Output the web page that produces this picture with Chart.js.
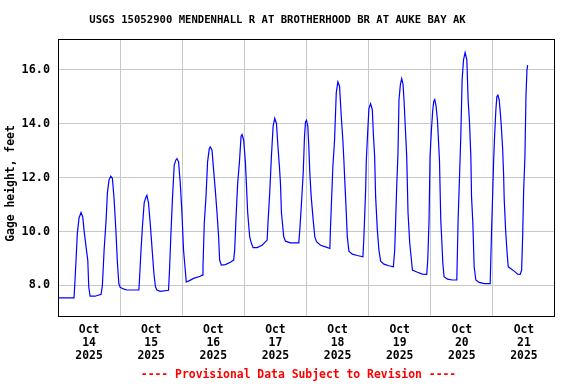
<!DOCTYPE html>
<html>
<head>
<meta charset="utf-8">
<script src="https://cdn.jsdelivr.net/npm/chart.js@4"></script>
<style>
  html, body { margin: 0; padding: 0; background: #fff; }
</style>
</head>
<body>
<canvas id="gage" width="576" height="384"></canvas>
<script>
// hours since Oct 14 2025 00:00, and gage height in feet
var hours = [
  0, 6.19, 6.58, 6.97, 7.47, 8.13, 8.90, 9.56, 10.06, 10.84, 11.50, 11.88, 12.39, 14.32,
  16.65, 17.15, 17.81, 18.58, 19.08, 19.74, 20.40, 21.02, 21.68, 22.34, 22.95, 23.50, 24.00, 25.28, 26.59,
  31.24, 31.47, 32.01, 32.63, 33.29, 33.95, 34.34, 34.96, 35.61, 36.39, 37.05, 37.66, 38.21, 39.48,
  42.70, 43.08, 43.63, 44.25, 44.90, 45.56, 45.95, 46.57, 47.23, 47.88, 48.50, 49.16, 49.55, 50.44, 52.37, 54.97,
  55.63, 56.01, 56.52, 57.17, 57.79, 58.45, 58.84, 59.50, 60.12, 60.77, 61.43, 62.05, 62.44, 63.10, 64.65, 66.58,
  67.86, 68.25, 68.79, 69.41, 70.07, 70.72, 71.11, 71.73, 72.39, 72.77, 73.28, 74.05, 74.71, 75.37, 76.92, 78.85,
  80.79, 81.18, 81.79, 82.45, 83.11, 83.73, 84.39, 84.89, 85.55, 85.94, 86.32, 87.21, 87.87, 89.81,
  93.02, 93.41, 94.07, 94.73, 95.23, 95.61, 96.00, 96.50, 96.89, 97.28, 97.82, 98.59, 99.21, 99.87, 101.42, 103.36,
  105.02, 105.29, 106.18, 106.84, 107.50, 108.12, 108.77, 109.43, 110.05, 110.44, 110.83, 111.37, 111.76, 112.38, 113.69, 115.63,
  117.80, 118.18, 118.84, 119.11, 119.61, 120.12, 120.77, 121.43, 121.82, 122.32, 122.71, 123.37, 123.99, 124.65, 125.92, 127.86,
  129.56, 130.07, 130.45, 130.84, 131.34, 131.73, 132.27, 132.77, 133.28, 133.67, 134.21, 134.71, 135.22, 135.87, 136.53, 136.92, 138.85, 140.79,
  142.45, 142.84, 143.34, 143.73, 144.27, 144.78, 145.16, 145.55, 146.05, 146.59, 146.98, 147.37, 147.87, 148.26, 148.65, 149.15, 150.47, 152.40,
  154.07, 154.57, 155.11, 155.61, 156.12, 156.66, 157.28, 157.94, 158.44, 158.98, 159.49, 159.76, 160.26, 160.77, 161.42, 162.70, 164.64,
  166.96, 167.50, 167.89, 168.27, 168.66, 169.16, 169.55, 169.94, 170.44, 170.83, 171.22, 171.76, 172.15, 172.38, 172.92, 173.42, 173.93, 174.97, 176.25, 177.57,
  178.57, 179.11, 179.50, 179.89, 180.39, 180.78, 181.16, 181.43
];
var gageFt = [
  7.54, 7.54, 8.20, 8.95, 9.93, 10.50, 10.70, 10.54, 10.05, 9.43, 8.94, 7.95, 7.60, 7.60,
  7.67, 8.00, 9.30, 10.42, 11.43, 11.92, 12.05, 11.96, 11.19, 10.07, 8.84, 8.07, 7.93, 7.87, 7.83,
  7.83, 8.20, 9.20, 10.20, 11.06, 11.27, 11.34, 11.06, 10.32, 9.30, 8.44, 7.95, 7.83, 7.78,
  7.82, 8.57, 9.93, 11.28, 12.46, 12.65, 12.70, 12.58, 11.80, 10.69, 9.30, 8.57, 8.13, 8.16, 8.26, 8.34,
  8.38, 8.69, 10.32, 11.28, 12.58, 13.07, 13.13, 13.01, 12.27, 11.53, 10.69, 9.80, 8.94, 8.75, 8.77, 8.86,
  8.94, 9.30, 10.54, 11.79, 12.54, 13.53, 13.59, 13.38, 12.58, 11.79, 10.69, 9.80, 9.56, 9.40, 9.40, 9.49,
  9.68, 10.42, 11.43, 12.79, 13.90, 14.19, 14.00, 13.26, 12.39, 11.79, 10.69, 9.80, 9.64, 9.58,
  9.58, 10.05, 11.06, 12.17, 13.53, 14.06, 14.12, 13.90, 13.16, 12.17, 11.28, 10.42, 9.80, 9.62, 9.49, 9.43,
  9.37, 10.20, 12.39, 13.38, 15.14, 15.54, 15.38, 14.27, 13.38, 12.64, 11.79, 10.69, 9.80, 9.27, 9.16, 9.11,
  9.06, 9.80, 11.53, 12.64, 13.63, 14.55, 14.73, 14.51, 13.63, 12.79, 11.28, 10.05, 9.30, 8.90, 8.79, 8.73,
  8.69, 9.30, 10.42, 11.65, 12.90, 14.88, 15.44, 15.66, 15.47, 14.88, 13.78, 12.79, 10.69, 9.58, 8.94, 8.57, 8.49, 8.42,
  8.41, 8.94, 10.42, 12.79, 13.78, 14.51, 14.82, 14.89, 14.64, 14.12, 13.38, 12.64, 10.42, 9.68, 8.84, 8.32, 8.23, 8.20,
  8.20, 10.42, 12.02, 13.53, 15.62, 16.36, 16.63, 16.36, 14.88, 14.02, 12.79, 11.28, 10.32, 8.69, 8.20, 8.11, 8.07,
  8.07, 10.05, 11.28, 12.54, 13.53, 14.51, 15.00, 15.05, 14.88, 14.45, 13.95, 13.09, 12.09, 11.19, 10.05, 9.30, 8.69, 8.62, 8.53, 8.42,
  8.41, 8.57, 9.80, 11.53, 12.79, 15.00, 15.97, 16.16
];

var yTicks = [8, 10, 12, 14, 16];
var xGridHours = [24, 48, 72, 96, 120, 144, 168];
var xLabelHours = [12, 36, 60, 84, 108, 132, 156, 180];
var dayLabels = ['14', '15', '16', '17', '18', '19', '20', '21'];
var monthLabel = 'Oct';
var yearLabel = '2025';

var titleText = 'USGS 15052900 MENDENHALL R AT BROTHERHOOD BR AT AUKE BAY AK';
var yTitle = 'Gage height, feet';
var footText = '---- Provisional Data Subject to Revision ----';

var mono = '"DejaVu Sans Mono", "Liberation Mono", monospace';

var points = hours.map(function (h, i) { return { x: h, y: gageFt[i] }; });

var frameAndText = {
  id: 'frameAndText',
  afterDraw: function (chart) {
    var c = chart.ctx, a = chart.chartArea;
    c.save();
    c.strokeStyle = '#000';
    c.lineWidth = 1;
    c.strokeRect(a.left + 0.5, a.top + 0.5, a.right - a.left - 1, a.bottom - a.top - 1);

    c.fillStyle = '#000';
    c.textAlign = 'center';
    c.textBaseline = 'middle';
    c.font = 'bold 10.6px ' + mono;
    c.fillText(titleText, 277.5, 20.5);

    c.save();
    c.translate(11.5, 183.5);
    c.rotate(-Math.PI / 2);
    c.font = 'bold 11.4px ' + mono;
    c.fillText(yTitle, 0, 0);
    c.restore();

    c.fillStyle = '#ff0000';
    c.font = 'bold 11.4px ' + mono;
    c.fillText(footText, 298.5, 375.5);
    c.restore();
  }
};

new Chart(document.getElementById('gage').getContext('2d'), {
  type: 'line',
  data: {
    datasets: [{
      data: points,
      borderColor: '#0000ff',
      borderWidth: 1.2,
      pointRadius: 0,
      tension: 0,
      fill: false
    }]
  },
  options: {
    responsive: false,
    animation: false,
    layout: { padding: { top: 39, right: 21, left: 0, bottom: 0 } },
    plugins: {
      legend: { display: false },
      tooltip: { enabled: false },
      title: { display: false }
    },
    scales: {
      x: {
        type: 'linear',
        bounds: 'data',
        min: 0,
        max: 192,
        afterBuildTicks: function (s) {
          s.ticks = xGridHours.concat(xLabelHours).sort(function (a, b) { return a - b; })
            .map(function (v) { return { value: v }; });
        },
        afterFit: function (s) { s.height = 67; },
        border: { display: false },
        grid: {
          drawTicks: false,
          lineWidth: 1,
          color: function (ctx) {
            return ctx.tick && xGridHours.indexOf(ctx.tick.value) >= 0 ? '#c8c8c8' : 'rgba(0,0,0,0)';
          }
        },
        ticks: {
          autoSkip: false,
          maxRotation: 0,
          padding: 7,
          color: '#000',
          font: { family: mono, size: 11.4, weight: 'bold', lineHeight: '13px' },
          callback: function (v) {
            var k = xLabelHours.indexOf(v);
            return k >= 0 ? [monthLabel, dayLabels[k], yearLabel] : '';
          }
        }
      },
      y: {
        type: 'linear',
        bounds: 'data',
        min: 6.83,
        max: 17.13,
        afterBuildTicks: function (s) {
          s.ticks = yTicks.map(function (v) { return { value: v }; });
        },
        afterFit: function (s) { s.width = 58; },
        border: { display: false },
        grid: { drawTicks: false, color: '#c8c8c8', lineWidth: 1 },
        ticks: {
          padding: 8,
          color: '#000',
          font: { family: mono, size: 11.8, weight: 'bold' },
          callback: function (v) { return v.toFixed(1); }
        }
      }
    }
  },
  plugins: [frameAndText]
});
</script>
</body>
</html>
